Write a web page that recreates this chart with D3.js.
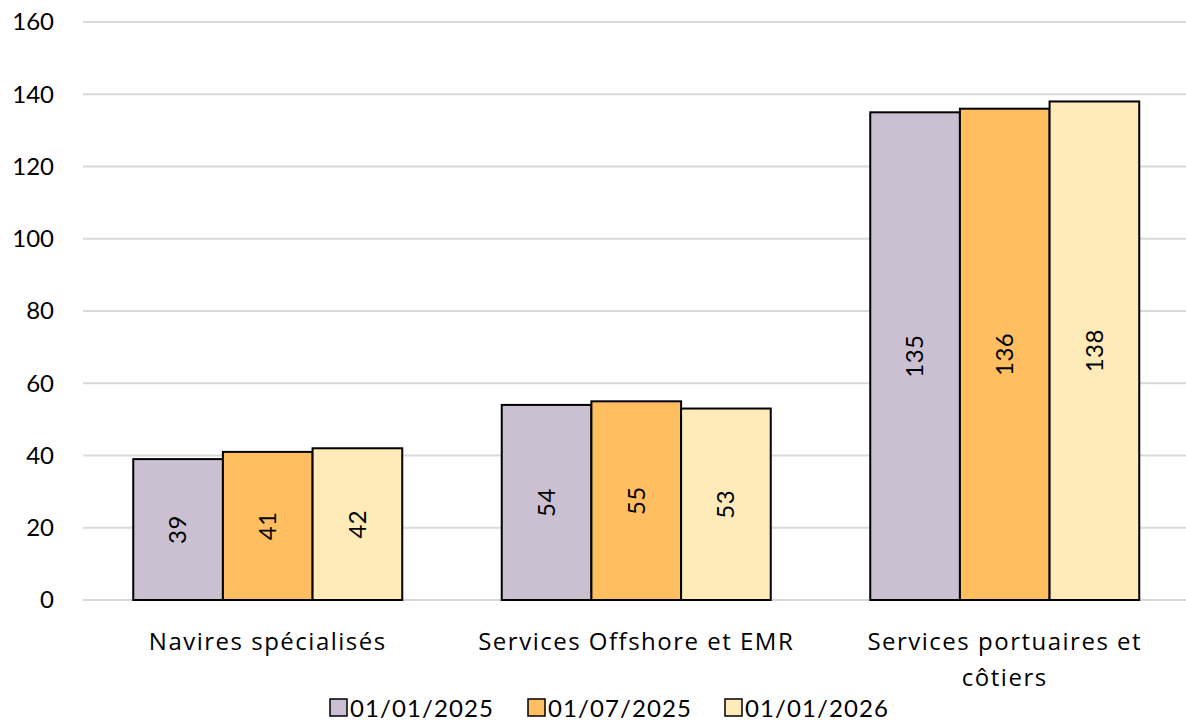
<!DOCTYPE html>
<html>
<head>
<meta charset="utf-8">
<script src="https://cdn.jsdelivr.net/npm/d3@7"></script>
<style>
  body { margin: 0; background: #fff; }
  text { font-family: Lato, "Noto Sans", sans-serif; fill: #000; }
  .cat { font-family: "Open Sans", "Noto Sans", sans-serif; }
</style>
</head>
<body>
<svg id="chart" width="1186" height="724"></svg>
<script>
var categories = ["Navires spécialisés", "Services Offshore et EMR", "Services portuaires et côtiers"];
var series = ["01/01/2025", "01/07/2025", "01/01/2026"];
var values2025a = [39, 54, 135];
var values2025b = [41, 55, 136];
var values2026 = [42, 53, 138];
var yTicks = [0, 20, 40, 60, 80, 100, 120, 140, 160];
var colors = ["#cbbfd2", "#ffbe5f", "#ffebb9"];

var allValues = [values2025a, values2025b, values2026];

var svg = d3.select('#chart');

var x0 = d3.scaleBand().domain(categories).range([83.5, 1189]).paddingInner(0.27).paddingOuter(0.135);
var x1 = d3.scaleBand().domain(series).range([0, x0.bandwidth()]);
var y = d3.scaleLinear().domain([0, 160]).range([600, 22]);

// gridlines
svg.append('g').selectAll('line')
  .data(yTicks)
  .enter().append('line')
  .attr('x1', 83).attr('x2', 1186)
  .attr('y1', function(d){ return y(d); })
  .attr('y2', function(d){ return y(d); })
  .style('stroke', '#d9d9d9')
  .style('stroke-width', 2);

// y labels
svg.append('g').selectAll('text')
  .data(yTicks)
  .enter().append('text')
  .attr('x', 54)
  .attr('y', function(d){ return y(d); })
  .attr('dy', '0.35em')
  .attr('text-anchor', 'end')
  .style('font-size', '24px')
  .text(function(d){ return d; });

// bars
var groups = svg.append('g').selectAll('g')
  .data(categories)
  .enter().append('g')
  .attr('transform', function(d){ return 'translate(' + x0(d) + ',0)'; });

groups.selectAll('rect')
  .data(function(d, i){ return series.map(function(s, j){ return {s: s, v: allValues[j][i], c: colors[j]}; }); })
  .enter().append('rect')
  .attr('x', function(d){ return x1(d.s); })
  .attr('y', function(d){ return y(d.v); })
  .attr('width', x1.bandwidth())
  .attr('height', function(d){ return y(0) - y(d.v); })
  .style('fill', function(d){ return d.c; })
  .style('stroke', '#000')
  .style('stroke-width', 2);

groups.selectAll('text')
  .data(function(d, i){ return series.map(function(s, j){ return {s: s, v: allValues[j][i]}; }); })
  .enter().append('text')
  .attr('transform', function(d){
    var cx = x1(d.s) + x1.bandwidth() / 2;
    var cy = (y(d.v) + y(0)) / 2;
    return 'translate(' + cx + ',' + cy + ') rotate(-90)';
  })
  .attr('text-anchor', 'middle')
  .attr('dy', '0.35em')
  .style('font-size', '24px')
  .style('letter-spacing', '0.5px')
  .text(function(d){ return d.v; });

// category labels (wrapped)
var catLines = {
  "Navires spécialisés": ["Navires spécialisés"],
  "Services Offshore et EMR": ["Services Offshore et EMR"],
  "Services portuaires et côtiers": ["Services portuaires et", "côtiers"]
};
svg.append('g').selectAll('text')
  .data(categories)
  .enter().append('text')
  .attr('class', 'cat')
  .attr('x', function(d){ return x0(d) + x0.bandwidth() / 2; })
  .attr('y', 650)
  .attr('text-anchor', 'middle')
  .style('font-size', '24px')
  .style('letter-spacing', '1.5px')
  .each(function(d){
    var t = d3.select(this);
    catLines[d].forEach(function(line, i){
      t.append('tspan')
        .attr('x', x0(d) + x0.bandwidth() / 2)
        .attr('dy', i === 0 ? 0 : 36)
        .text(line);
    });
  });

// legend
var legendX = [330, 528, 725];
var legend = svg.append('g').selectAll('g')
  .data(series)
  .enter().append('g')
  .attr('transform', function(d, i){ return 'translate(' + legendX[i] + ',700)'; });
legend.append('rect')
  .attr('x', 0).attr('y', -1)
  .attr('width', 17).attr('height', 17)
  .style('fill', function(d, i){ return colors[i]; })
  .style('stroke', '#000')
  .style('stroke-width', 1.5);
legend.append('text')
  .attr('x', 20)
  .attr('y', 17)
  .style('font-size', '24px')
  .style('letter-spacing', '1.1px')
  .text(function(d){ return d; });
</script>
</body>
</html>
